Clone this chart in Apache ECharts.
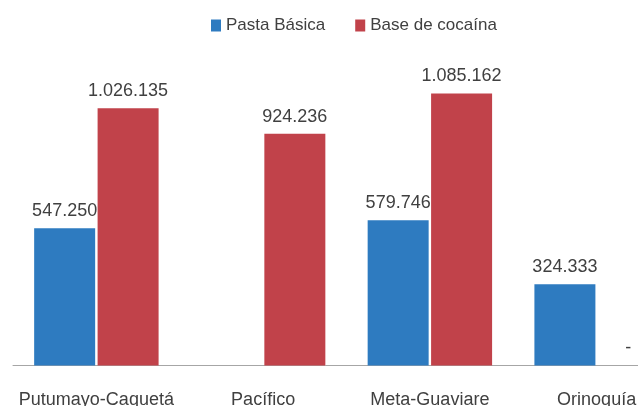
<!DOCTYPE html>
<html>
<head>
<meta charset="utf-8">
<script src="https://cdn.jsdelivr.net/npm/echarts@6/dist/echarts.min.js"></script>
<style>html,body{margin:0;padding:0;background:#fff}#c{width:638px;height:406px}</style>
</head>
<body>
<div id="c"></div>
<script>
const categories = ['Putumayo-Caquetá', 'Pacífico', 'Meta-Guaviare', 'Orinoquía'];
const pastaBasica = [547250, null, 579746, 324333];
const baseCocaina = [1026135, 924236, 1085162, 0];
const seriesNames = ['Pasta Básica', 'Base de cocaína'];

const FONT = '"Liberation Sans", Arial, sans-serif';
function fmt(v) {
  if (!v) return '-';
  return String(v).replace(/\B(?=(\d{3})+(?!\d))/g, '.');
}
const chart = echarts.init(document.getElementById('c'), null, {renderer: 'canvas'});
chart.setOption({
  animation: false,
  legend: {
    left: 206, top: 12,
    icon: 'rect',
    itemWidth: 10, itemHeight: 12, itemGap: 30,
    textStyle: {fontFamily: FONT, fontSize: 17, color: '#404040'},
    data: seriesNames
  },
  grid: {left: 13, width: 667, top: 64.7, bottom: 40.5, containLabel: false, outerBoundsMode: 'none'},
  xAxis: {
    type: 'category', data: categories,
    axisLine: {lineStyle: {color: '#a6a6a6', width: 1}},
    axisTick: {show: false},
    axisLabel: {interval: 0, fontFamily: FONT, fontSize: 18, color: '#404040', margin: 26, hideOverlap: false}
  },
  yAxis: {type: 'value', min: 0, max: 1200000, show: false, splitLine: {show: false}},
  series: [
    {
      name: seriesNames[0], type: 'bar', data: pastaBasica,
      barWidth: 61, barGap: '4%',
      itemStyle: {color: '#2E7BC0'},
      label: {show: true, position: 'top', distance: 8, fontFamily: FONT, fontSize: 18, color: '#404040',
        formatter: p => fmt(p.value)}
    },
    {
      name: seriesNames[1], type: 'bar', data: baseCocaina,
      barWidth: 61, barGap: '4%',
      itemStyle: {color: '#C1424A'},
      label: {show: true, position: 'top', distance: 8, fontFamily: FONT, fontSize: 18, color: '#404040',
        formatter: p => fmt(p.value)}
    }
  ]
});
</script>
</body>
</html>
